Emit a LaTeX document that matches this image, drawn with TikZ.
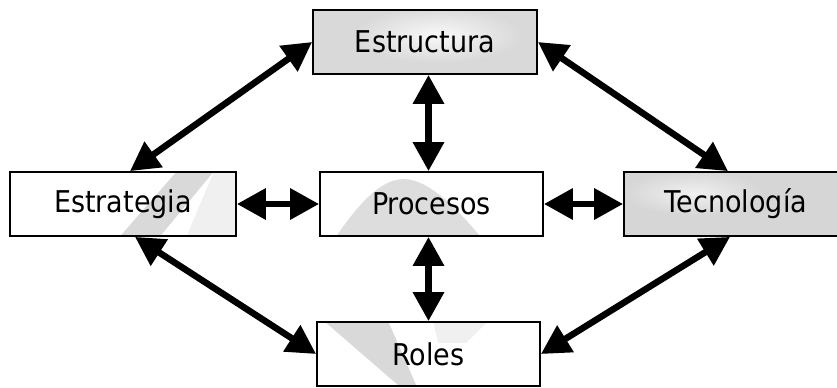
\documentclass[tikz,border=0pt]{standalone}
\usepackage{fontspec}
\setmainfont{DejaVu Sans}[FakeStretch=0.9]
\usetikzlibrary{arrows.meta,backgrounds}

% fill a box's interior: base colour, then extra shapes in a frame whose
% origin is the box's top left corner (y runs downwards)
\newcommand\boxtexture[3]{%
  \begin{scope}
    \clip (#1.north west) rectangle (#1.south east);
    \fill[#2] (#1.north west) rectangle (#1.south east);
    \begin{scope}[shift={(#1.north west)}]#3\end{scope}
  \end{scope}}

\begin{document}
\begin{tikzpicture}[
  x=1bp, y=-1bp,
  box/.style={draw=black, line width=1.8bp, minimum width=224bp,
    minimum height=64bp, inner sep=0pt,
    font=\fontsize{30bp}{36bp}\selectfont},
  link/.style={line width=6.5bp,
    {Triangle[length=29bp,width=30bp]}-{Triangle[length=29bp,width=30bp]}}
]
\clip (0,0) rectangle (837,387);

% boxes
\node[box] (estructura) at (425,42) {Estructura};
\node[box, minimum width=226bp] (estrategia) at (123,204) {Estrategia};
\node[box, minimum width=223bp] (procesos) at (431.5,204) {Procesos};
\node[box] (tecnologia) at (736,204) {Tecnología};
\node[box, minimum width=223bp] (roles) at (428.5,354) {Roles};

% box interiors
\begin{scope}[on background layer]
  \boxtexture{estructura}{gray!30}{
    \shade[inner color=gray!5, outer color=gray!30] (125,26) ellipse (85 and 28);
  }
  \boxtexture{estrategia}{white}{
    \fill[gray!30] (112,64) -- (152,64) -- (205,0) -- (168,0) -- cycle;
    \fill[gray!12] (205,0) -- (226,0) -- (226,64) -- (178,64) -- cycle;
  }
  \boxtexture{procesos}{white}{
    \fill[gray!27] (18,64) .. controls (45,25) and (65,8) .. (85,8)
      .. controls (110,8) and (140,40) .. (160,64) -- cycle;
  }
  \boxtexture{tecnologia}{gray!32}{
    \shade[inner color=gray!12, outer color=gray!32] (70,22) ellipse (70 and 22);
  }
  \boxtexture{roles}{white}{
    \fill[gray!30] (8,0) -- (72,0) -- (100,64) -- (82,64) -- cycle;
    \fill[gray!12] (117,0) -- (172,0) -- (150,22) -- (122,22) -- cycle;
  }
\end{scope}

% connectors
\draw[link] (estrategia.east) -- (procesos.west);
\draw[link] (procesos.east) -- (tecnologia.west);
\draw[link] (estructura.south -| roles.north) -- (procesos.north -| roles.north);
\draw[link] (procesos.south -| roles.north) -- (roles.north);
\draw[link] (estructura.west) -- ([xshift=7bp]estrategia.north);
\draw[link] (estructura.east) -- ([xshift=-8bp]tecnologia.north);
\draw[link] ([xshift=12bp]estrategia.south) -- (roles.west);
\draw[link] ([xshift=-6bp]tecnologia.south) -- (roles.east);
\end{tikzpicture}
\end{document}
